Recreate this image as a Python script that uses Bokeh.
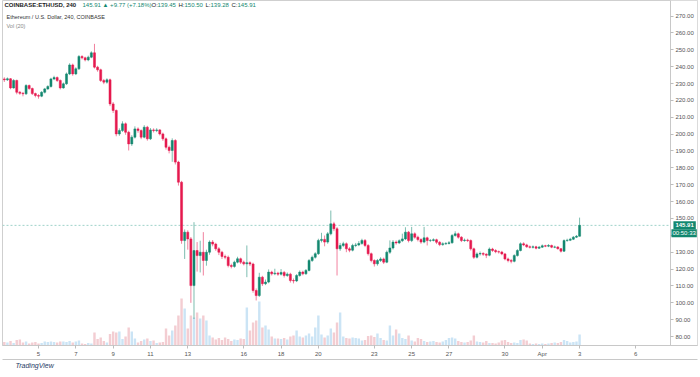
import pandas as pd
from bokeh.plotting import figure
from bokeh.models import (ColumnDataSource, Range1d, LinearAxis, FixedTicker, Span,
                          Label, Title, NumeralTickFormatter, BoxAnnotation)
from bokeh.embed import file_html
from bokeh.resources import INLINE

# ---------------- data ----------------
start_time = "2020-03-03 04:00"   # 4h candles, COINBASE:ETHUSD

opens = [
    232.7, 232.2, 232.8, 227.4, 231.8, 224.8, 224.2, 223.9, 228.8, 227.0,
    224.0, 222.9, 222.5, 224.8, 226.8, 228.2, 232.7, 233.5, 231.8, 227.4,
    229.8, 235.7, 241.0, 235.7, 238.7, 246.0, 245.2, 244.0, 245.6, 248.2,
    239.7, 238.1, 231.8, 230.8, 232.2, 217.9, 214.0, 200.1, 202.1, 206.1,
    201.1, 194.2, 198.2, 203.1, 202.1, 198.2, 204.1, 197.2, 202.5, 202.1,
    202.5, 200.1, 197.2, 192.2, 190.3, 196.2, 183.4, 171.5, 136.9, 141.9,
    137.9, 110.2, 131.0, 128.0, 130.0, 125.1, 130.0, 136.0, 134.8, 132.0,
    130.0, 127.5, 127.0, 122.1, 121.6, 124.1, 126.1, 124.1, 123.1, 123.8,
    123.0, 107.3, 104.3, 115.2, 111.3, 112.3, 118.2, 117.2, 117.6, 117.0,
    118.0, 116.2, 117.0, 113.2, 113.0, 116.2, 118.2, 117.2, 119.2, 125.1,
    127.0, 129.1, 137.0, 137.6, 136.0, 140.9, 146.8, 143.9, 132.0, 134.0,
    135.0, 132.0, 131.2, 134.0, 134.3, 135.2, 137.0, 134.0, 129.1, 125.1,
    123.1, 125.1, 126.0, 124.1, 130.0, 132.5, 136.0, 135.5, 136.8, 137.9,
    141.9, 136.9, 140.9, 138.9, 137.5, 136.0, 138.5, 136.9, 137.0, 137.4,
    135.9, 134.5, 135.0, 135.2, 135.6, 139.9, 140.9, 138.9, 136.9, 137.2,
    136.9, 132.0, 127.0, 129.0, 129.2, 128.8, 128.2, 131.9, 131.0, 130.3,
    130.1, 129.0, 126.0, 125.1, 124.6, 128.0, 131.0, 135.0, 134.3, 133.2,
    132.9, 133.2, 132.4, 133.0, 133.8, 133.6, 134.0, 133.0, 133.1, 132.1,
    130.6, 136.9, 137.1, 137.7, 138.9, 139.45,
]

closes = [
    232.2, 232.8, 227.4, 231.8, 224.8, 224.2, 223.9, 228.8, 227.0, 224.0,
    222.9, 222.5, 224.8, 226.8, 228.2, 232.7, 233.5, 231.8, 227.4, 229.8,
    235.7, 241.0, 235.7, 238.7, 246.0, 245.2, 244.0, 245.6, 248.2, 239.7,
    238.1, 231.8, 230.8, 232.2, 217.9, 214.0, 200.1, 202.1, 206.1, 201.1,
    194.2, 198.2, 203.1, 202.1, 198.2, 204.1, 197.2, 202.5, 202.1, 202.5,
    200.1, 197.2, 192.2, 190.3, 196.2, 183.4, 171.5, 136.9, 141.9, 137.9,
    110.2, 131.0, 128.0, 130.0, 125.1, 130.0, 136.0, 134.8, 132.0, 130.0,
    127.5, 127.0, 122.1, 121.6, 124.1, 126.1, 124.1, 123.1, 123.8, 123.0,
    107.3, 104.3, 115.2, 111.3, 112.3, 118.2, 117.2, 117.6, 117.0, 118.0,
    116.2, 117.0, 113.2, 113.0, 116.2, 118.2, 117.2, 119.2, 125.1, 127.0,
    129.1, 137.0, 137.6, 136.0, 140.9, 146.8, 143.9, 132.0, 134.0, 135.0,
    132.0, 131.2, 134.0, 134.3, 135.2, 137.0, 134.0, 129.1, 125.1, 123.1,
    125.1, 126.0, 124.1, 130.0, 132.5, 136.0, 135.5, 136.8, 137.9, 141.9,
    136.9, 140.9, 138.9, 137.5, 136.0, 138.5, 136.9, 137.0, 137.4, 135.9,
    134.5, 135.0, 135.2, 135.6, 139.9, 140.9, 138.9, 136.9, 137.2, 136.9,
    132.0, 127.0, 129.0, 129.2, 128.8, 128.2, 131.9, 131.0, 130.3, 130.1,
    129.0, 126.0, 125.1, 124.6, 128.0, 131.0, 135.0, 134.3, 133.2, 132.9,
    133.2, 132.4, 133.0, 133.8, 133.6, 134.0, 133.0, 133.1, 132.1, 130.6,
    136.9, 137.1, 137.7, 138.9, 139.45, 145.91,
]

highs = [
    233.7, 233.6, 233.2, 232.6, 232.3, 225.6, 225.0, 229.6, 229.4, 227.6,
    224.6, 223.7, 225.5, 227.4, 229.0, 233.4, 234.6, 234.2, 232.4, 230.6,
    236.5, 242.0, 241.8, 239.6, 246.9, 246.8, 245.9, 246.5, 249.1, 253.5,
    240.5, 238.8, 232.7, 233.1, 232.9, 219.0, 214.6, 203.4, 207.6, 206.9,
    202.0, 199.4, 204.6, 204.0, 202.8, 205.3, 204.9, 203.6, 203.4, 203.5,
    203.0, 200.9, 198.0, 193.2, 197.5, 197.0, 184.2, 172.3, 143.5, 143.0,
    139.0, 147.8, 136.0, 136.8, 141.9, 131.5, 137.0, 137.2, 135.6, 133.0,
    130.8, 128.6, 128.0, 123.2, 125.0, 127.3, 126.8, 125.0, 134.0, 124.6,
    123.8, 108.5, 117.8, 116.0, 113.8, 119.8, 119.0, 120.2, 118.4, 120.0,
    118.9, 118.0, 117.8, 114.4, 117.0, 119.2, 119.0, 120.0, 126.0, 128.0,
    130.0, 138.0, 141.5, 139.9, 142.0, 154.7, 148.0, 144.9, 135.5, 136.2,
    135.8, 133.0, 135.0, 135.5, 136.6, 138.0, 137.8, 134.8, 129.8, 125.8,
    126.0, 127.0, 126.8, 131.0, 137.0, 137.2, 137.0, 137.6, 141.0, 144.8,
    142.6, 145.0, 141.8, 139.8, 138.3, 145.0, 139.2, 137.8, 138.2, 138.0,
    136.6, 135.9, 136.0, 136.6, 140.8, 142.4, 141.6, 139.5, 138.1, 138.0,
    137.6, 132.7, 129.9, 130.4, 130.0, 129.4, 132.8, 132.6, 131.8, 131.0,
    130.8, 129.6, 126.8, 126.0, 128.8, 131.8, 135.8, 135.9, 135.0, 134.0,
    134.0, 133.8, 133.7, 134.6, 134.4, 134.8, 134.5, 133.9, 133.6, 132.5,
    137.6, 138.0, 138.5, 139.6, 140.2, 150.5,
]

lows = [
    230.9, 231.5, 226.6, 226.9, 223.6, 223.3, 222.4, 223.2, 226.3, 223.2,
    221.8, 221.0, 221.9, 224.1, 226.2, 227.6, 232.0, 230.9, 226.5, 226.9,
    229.2, 235.0, 234.6, 235.0, 238.0, 244.3, 243.1, 243.2, 245.0, 238.9,
    237.0, 230.9, 229.6, 229.9, 216.6, 212.5, 198.7, 199.0, 201.3, 199.6,
    190.3, 193.0, 197.4, 200.8, 197.0, 197.5, 196.1, 196.5, 201.0, 201.2,
    199.2, 196.0, 190.8, 188.6, 183.6, 182.0, 169.5, 135.0, 126.0, 131.5,
    100.0, 90.4, 118.5, 118.0, 116.2, 122.0, 128.5, 133.5, 130.8, 128.3,
    126.0, 125.8, 121.0, 120.4, 120.8, 123.4, 123.0, 122.2, 115.2, 121.8,
    106.0, 101.4, 103.5, 110.0, 110.5, 111.6, 116.2, 116.4, 116.0, 116.2,
    115.0, 115.4, 112.0, 111.5, 112.3, 115.5, 116.3, 116.6, 118.6, 124.2,
    126.2, 128.4, 135.8, 133.5, 135.0, 140.0, 142.5, 116.2, 130.8, 133.0,
    130.0, 130.0, 130.5, 133.0, 133.6, 134.4, 133.0, 128.0, 124.0, 121.5,
    122.0, 124.2, 123.0, 123.5, 129.0, 131.6, 134.5, 134.8, 136.0, 137.2,
    135.8, 136.0, 138.0, 136.4, 135.0, 135.3, 134.0, 136.0, 136.4, 134.8,
    133.6, 133.8, 134.3, 134.6, 135.0, 139.2, 138.0, 136.0, 136.2, 136.0,
    131.0, 126.0, 126.3, 128.0, 127.8, 126.5, 127.6, 130.2, 129.4, 129.2,
    128.2, 125.2, 124.0, 123.4, 124.0, 127.4, 130.5, 133.6, 132.6, 132.2,
    132.2, 131.7, 131.9, 132.5, 133.0, 133.0, 132.4, 132.4, 131.5, 129.8,
    130.2, 136.2, 136.6, 137.2, 138.4, 139.28,
]

volumes = [
    35, 30, 45, 25, 55, 60, 30, 40, 20, 30,
    35, 20, 25, 40, 35, 40, 35, 30, 40, 40,
    35, 45, 30, 40, 50, 20, 15, 25, 20, 130,
    65, 80, 45, 30, 115, 140, 130, 140, 65, 90,
    180, 140, 70, 30, 45, 60, 70, 45, 50, 25,
    30, 35, 170, 100, 150, 200, 300, 470, 370, 170,
    300, 280, 330, 270, 300, 250, 100, 80, 60, 75,
    55, 80, 65, 45, 60, 55, 70, 65, 380, 150,
    230, 250, 440, 180, 200, 160, 90, 70, 70, 65,
    75, 60, 90, 100, 150, 90, 80, 100, 120, 90,
    180, 300, 110, 80, 100, 170, 130, 230, 330, 90,
    75, 70, 80, 75, 70, 50, 55, 95, 100, 85,
    120, 75, 55, 50, 200, 100, 160, 120, 75, 65,
    100, 50, 40, 75, 65, 45, 35, 40, 45, 35,
    30, 40, 55, 75, 80, 70, 45, 35, 30, 35,
    50, 100, 40, 35, 30, 45, 25, 25, 20, 30,
    50, 55, 35, 25, 30, 25, 55, 60, 50, 20,
    15, 20, 15, 20, 15, 20, 25, 30, 25, 35,
    55, 45, 30, 35, 40, 110,
]

date_ticks = [5, 7, 9, 11, 13, 16, 18, 20, 23, 25, 27, 30, 32, 34, 37]
date_labels = ["5", "7", "9", "11", "13", "16", "18", "20", "23", "25", "27", "30", "Apr", "3", "6"]
price_ticks = [80, 90, 100, 110, 120, 130, 140, 150, 160, 170, 180, 190, 200,
               210, 220, 230, 240, 250, 260, 270]
countdown = "00:50:33"

# ---------------- styling ----------------
UP = "#12876f"
DOWN = "#e5194e"
VOL_UP = "#cbe4f5"
VOL_DOWN = "#f3cdd2"
FONT = "Liberation Sans"

X_START, X_SCALE, X_END = 3.07, 38.87, 40.32   # price scale edge at X_SCALE

times = pd.date_range(start_time, periods=len(closes), freq="4h")
day = ((times - pd.Timestamp("2020-03-01")) / pd.Timedelta(days=1) + 1).tolist()

up = [c >= o for o, c in zip(opens, closes)]
src = ColumnDataSource(dict(
    x=day, open=opens, close=closes, high=highs, low=lows, vol=volumes,
    top=[max(o, c) for o, c in zip(opens, closes)],
    bottom=[min(o, c) for o, c in zip(opens, closes)],
    color=[UP if u else DOWN for u in up],
    vcolor=[VOL_UP if u else VOL_DOWN for u in up],
))

p = figure(width=700, height=377, output_backend="svg", toolbar_location=None,
           x_range=Range1d(X_START, X_END), y_range=Range1d(74.7, 279.2),
           x_axis_location=None, y_axis_location=None,
           min_border_left=2, min_border_right=3, min_border_top=0, min_border_bottom=32)
p.background_fill_color = "white"
p.border_fill_color = "white"
p.outline_line_color = "#cfcfcf"
p.grid.visible = False

p.extra_y_ranges = {"vol": Range1d(0, 3450)}

# last price line (kept out of the price scale by a white box)
p.add_layout(Span(location=closes[-1], dimension="width", line_color="#9fd2c9",
                  line_width=1, line_dash="2 2", level="underlay"))
p.add_layout(BoxAnnotation(left=X_SCALE, fill_color="white", fill_alpha=1,
                           line_color=None, level="underlay"))

# volume
p.vbar(x="x", top="vol", bottom=0, width=0.13, source=src, y_range_name="vol",
       fill_color="vcolor", line_color=None)

# candles
p.segment(x0="x", y0="low", x1="x", y1="high", source=src, line_color="color",
          line_alpha=0.55, line_width=1)
p.vbar(x="x", top="top", bottom="bottom", width=0.11, source=src,
       fill_color="color", line_color="color", line_width=0.5)


def style_axis(ax):
    ax.axis_line_color = "#c8c8c8"
    ax.major_tick_line_color = "#bdbdbd"
    ax.major_tick_out = 3
    ax.major_tick_in = 0
    ax.minor_tick_line_color = None
    ax.major_label_text_font = FONT
    ax.major_label_text_font_size = "6px"
    ax.major_label_text_color = "#555555"
    ax.major_label_standoff = 2


xaxis = LinearAxis(ticker=FixedTicker(ticks=date_ticks),
                   major_label_overrides=dict(zip(date_ticks, date_labels)))
style_axis(xaxis)
p.add_layout(xaxis, "below")

yaxis = LinearAxis(ticker=FixedTicker(ticks=price_ticks),
                   formatter=NumeralTickFormatter(format="0.00"),
                   fixed_location=X_SCALE)
style_axis(yaxis)
p.add_layout(yaxis, "right")

# bottom closing line of the time scale
edge = LinearAxis(ticker=FixedTicker(ticks=[]), axis_line_color="#c8c8c8",
                  major_tick_line_color=None, minor_tick_line_color=None,
                  major_label_text_font_size="0px")
p.add_layout(edge, "below")

p.add_layout(Title(text="TradingView", align="left", offset=13, standoff=1,
                   text_font=FONT, text_font_size="7px", text_font_style="italic",
                   text_color="#1f3b66"), "below")

# last price tags on the price scale
p.add_layout(Label(x=X_SCALE, y=closes[-1], x_offset=3, text=f"{closes[-1]:.2f}",
                   text_font=FONT, text_font_size="6px", text_color="white",
                   text_baseline="middle", text_font_style="bold",
                   background_fill_color=UP, padding=2))
p.add_layout(Label(x=X_SCALE, y=closes[-1], x_offset=1, y_offset=-8, text=countdown,
                   text_font=FONT, text_font_size="6px", text_color="white",
                   text_baseline="middle",
                   background_fill_color=UP, padding=1))

# header legend
hdr_y = 341
segments = [
    ("COINBASE:ETHUSD, 240", 2, "#222222", "bold"),
    (f"{closes[-1]:.2f} \u25b2 +9.77 (+7.18%)", 80, UP, "normal"),
    ("O:", 149, "#222222", "normal"),
    (f"{opens[-1]:.2f}", 155, UP, "normal"),
    ("H:", 176, "#222222", "normal"),
    (f"{highs[-1]:.2f}", 182, UP, "normal"),
    ("L:", 203, "#222222", "normal"),
    (f"{lows[-1]:.2f}", 208, UP, "normal"),
    ("C:", 229, "#222222", "normal"),
    (f"{closes[-1]:.2f}", 235, UP, "normal"),
]
for txt, xx, col, sty in segments:
    p.add_layout(Label(x=xx, y=hdr_y, x_units="screen", y_units="screen", text=txt,
                       text_font=FONT, text_font_size="6px", text_color=col,
                       text_font_style=sty, text_baseline="middle"))
p.add_layout(Label(x=4, y=hdr_y - 12, x_units="screen", y_units="screen",
                   text="Ethereum / U.S. Dollar, 240, COINBASE", text_font=FONT,
                   text_font_size="5.5px", text_color="#333333", text_baseline="middle"))
p.add_layout(Label(x=4, y=hdr_y - 21, x_units="screen", y_units="screen",
                   text="Vol (20)", text_font=FONT, text_font_size="5.5px",
                   text_color="#888888", text_baseline="middle"))

open("out.html", "w").write(file_html(p, INLINE))
